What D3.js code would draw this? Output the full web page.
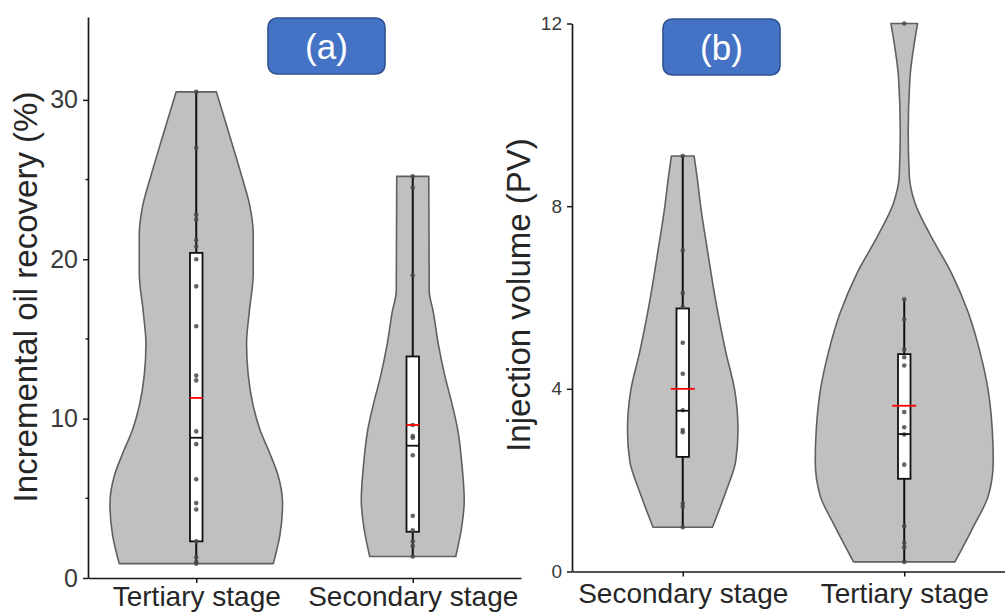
<!DOCTYPE html>
<html>
<head>
<meta charset="utf-8">
<script src="https://cdn.jsdelivr.net/npm/d3@7"></script>
<style>
  html, body { margin: 0; padding: 0; background: #ffffff; }
  svg { display: block; }
  text { font-family: "Liberation Sans", Arial, sans-serif; }
</style>
</head>
<body>
<svg id="chart" width="1005" height="613"></svg>
<script>
// ---- Panel (a): incremental oil recovery (%) ----
const recoveryCategories = ["Tertiary stage", "Secondary stage"];
const recoveryTicks = [0, 10, 20, 30];
const recoveryMinorTicks = [5, 15, 25];

const recoveryTertiaryPoints = [30.5, 27.0, 22.8, 22.5, 21.2, 20.8, 20.0, 18.3, 15.8, 12.7,
  12.4, 9.2, 8.4, 6.2, 4.7, 4.3, 2.3, 1.3, 1.0, 0.9];
const recoverySecondaryPoints = [25.2, 24.5, 19.0, 9.6, 8.9, 8.8, 7.7, 3.9, 3.0, 2.3, 2.0, 1.35];

const recoveryQ1 = [2.3, 2.9];
const recoveryMedian = [8.8, 8.3];
const recoveryQ3 = [20.4, 13.9];
const recoveryMean = [11.3, 9.6];
const recoveryWhiskerLow = [0.9, 1.35];
const recoveryWhiskerHigh = [30.5, 25.2];

// kernel density profiles: [value, relative density]
const recoveryTertiaryDensity = [
  [0.9, 0.856], [2.7, 0.93], [4.65, 0.959], [6.4, 0.911], [7.8, 0.819], [9.3, 0.708],
  [10.8, 0.633], [12.7, 0.578], [14.7, 0.559], [16.7, 0.589], [19.1, 0.633], [21.6, 0.633],
  [23.3, 0.597], [25.25, 0.503], [27.7, 0.374], [30.5, 0.224]
];
const recoverySecondaryDensity = [
  [1.35, 0.478], [3.2, 0.544], [4.9, 0.572], [6.9, 0.55], [9.3, 0.5], [11.0, 0.433],
  [12.7, 0.356], [14.7, 0.283], [16.7, 0.228], [18.0, 0.183], [25.2, 0.178]
];

// ---- Panel (b): injection volume (PV) ----
const volumeCategories = ["Secondary stage", "Tertiary stage"];
const volumeTicks = [0, 4, 8, 12];

const volumeSecondaryPoints = [9.1, 7.03, 6.1, 5.79, 5.01, 4.33, 3.53, 3.1, 3.05, 1.49, 1.42, 0.97];
const volumeTertiaryPoints = [12.0, 5.96, 5.52, 4.86, 4.69, 4.51, 3.49, 3.16, 3.0, 2.34, 0.99, 0.63, 0.53, 0.21];

const volumeQ1 = [2.51, 2.03];
const volumeMedian = [3.52, 3.01];
const volumeQ3 = [5.76, 4.76];
const volumeMean = [4.0, 3.63];
const volumeWhiskerLow = [0.97, 0.21];
const volumeWhiskerHigh = [9.1, 5.96];

const volumeSecondaryDensity = [
  [0.97, 0.33], [1.74, 0.478], [2.42, 0.589], [3.1, 0.614], [3.96, 0.578], [4.81, 0.478],
  [6.01, 0.359], [7.04, 0.274], [7.98, 0.2], [8.58, 0.163], [9.1, 0.126]
];
const volumeTertiaryDensity = [
  [0.21, 0.563], [1.05, 0.786], [1.65, 0.933], [2.42, 0.989], [3.1, 0.978], [3.96, 0.933],
  [4.81, 0.841], [5.67, 0.711], [6.53, 0.526], [7.38, 0.286], [8.07, 0.119], [8.66, 0.056],
  [9.6, 0.044], [10.8, 0.063], [11.66, 0.119], [12.0, 0.148]
];

// ---- drawing ----
const svg = d3.select("#chart");

const violinFill = "#c0c0c0";
const violinStroke = "#606060";
const axisColor = "#1a1a1a";
const textColor = "#262626";

function drawPanel(cfg) {
  const g = svg.append("g");
  const x = d3.scalePoint().domain(cfg.categories).range(cfg.xRange).padding(0.5);
  const y = d3.scaleLinear().domain(cfg.yDomain).range(cfg.yRange);
  const w = d3.scaleLinear().domain([0, 1]).range([0, 90]);

  // violins
  cfg.densities.forEach((dens, i) => {
    const cx = x(cfg.categories[i]);
    const area = d3.area()
      .y(d => y(d[0]))
      .x0(d => cx - w(d[1]))
      .x1(d => cx + w(d[1]))
      .curve(d3.curveMonotoneY);
    g.append("path")
      .attr("d", area(dens))
      .attr("fill", violinFill)
      .attr("stroke", violinStroke)
      .attr("stroke-width", 1.6)
      .attr("stroke-linejoin", "round");
  });

  // whiskers
  cfg.categories.forEach((c, i) => {
    g.append("line")
      .attr("x1", x(c)).attr("x2", x(c))
      .attr("y1", y(cfg.low[i])).attr("y2", y(cfg.high[i]))
      .attr("stroke", "#111").attr("stroke-width", 2);
  });

  // boxes
  const boxW = 12.5;
  cfg.categories.forEach((c, i) => {
    g.append("rect")
      .attr("x", x(c) - boxW / 2)
      .attr("y", y(cfg.q3[i]))
      .attr("width", boxW)
      .attr("height", y(cfg.q1[i]) - y(cfg.q3[i]))
      .attr("fill", "#ffffff")
      .attr("stroke", "#111")
      .attr("stroke-width", 1.8);
  });

  // data points
  cfg.points.forEach((pts, i) => {
    const cx = x(cfg.categories[i]);
    g.selectAll(null).data(pts).enter().append("circle")
      .attr("cx", cx)
      .attr("cy", d => y(d))
      .attr("r", 2.3)
      .attr("fill", "#4a4a4a")
      .attr("fill-opacity", 0.85);
  });

  // median lines
  cfg.categories.forEach((c, i) => {
    g.append("line")
      .attr("x1", x(c) - boxW / 2).attr("x2", x(c) + boxW / 2)
      .attr("y1", y(cfg.median[i])).attr("y2", y(cfg.median[i]))
      .attr("stroke", "#111").attr("stroke-width", 1.8);
  });

  // mean lines
  cfg.categories.forEach((c, i) => {
    g.append("line")
      .attr("x1", x(c) - cfg.meanW / 2).attr("x2", x(c) + cfg.meanW / 2)
      .attr("y1", y(cfg.mean[i])).attr("y2", y(cfg.mean[i]))
      .attr("stroke", "#ff0000").attr("stroke-width", 1.8);
  });

  // y axis
  const yAxis = g.append("g")
    .attr("transform", `translate(${cfg.xRange[0]},0)`)
    .call(d3.axisLeft(y).tickValues(cfg.ticks).tickSize(5).tickSizeOuter(0).tickPadding(5)
      .tickFormat(d3.format("d")));
  yAxis.select(".domain").attr("stroke", axisColor).attr("stroke-width", 1.7);
  yAxis.selectAll(".tick line").attr("stroke", axisColor).attr("stroke-width", 1.5);
  yAxis.selectAll(".tick text")
    .attr("font-size", cfg.tickFont)
    .attr("fill", "#3a3a3a");
  if (cfg.minorTicks) {
    g.selectAll(null).data(cfg.minorTicks).enter().append("line")
      .attr("x1", cfg.xRange[0] - 2.5).attr("x2", cfg.xRange[0])
      .attr("y1", d => y(d)).attr("y2", d => y(d))
      .attr("stroke", axisColor).attr("stroke-width", 1.5);
  }

  // x axis
  const xAxis = g.append("g")
    .attr("transform", `translate(0,${cfg.yRange[0]})`)
    .call(d3.axisBottom(x).tickSize(5).tickSizeOuter(0).tickPadding(cfg.xLabelPad));
  xAxis.select(".domain").attr("stroke", axisColor).attr("stroke-width", 1.7);
  xAxis.selectAll(".tick line").attr("stroke", axisColor).attr("stroke-width", 1.5);
  xAxis.selectAll(".tick text")
    .attr("font-size", 28)
    .attr("fill", textColor);

  // y title
  g.append("text")
    .attr("transform", `translate(${cfg.titleX},${cfg.titleY}) rotate(-90)`)
    .attr("text-anchor", "middle")
    .attr("font-size", cfg.titleFont)
    .attr("fill", textColor)
    .text(cfg.title);

  // panel tag
  const tag = g.append("g").attr("transform", `translate(${cfg.tag.x},${cfg.tag.y})`);
  tag.append("rect")
    .attr("width", 117).attr("height", 56).attr("rx", 9)
    .attr("fill", "#4472c4")
    .attr("stroke", "#2f528f")
    .attr("stroke-width", 1.6);
  tag.append("text")
    .attr("x", 58.5).attr("y", 28)
    .attr("dy", "0.36em")
    .attr("text-anchor", "middle")
    .attr("font-family", "'Open Sans', 'Liberation Sans', sans-serif")
    .attr("font-size", 35)
    .attr("fill", "#ffffff")
    .text(cfg.tag.label);
}

drawPanel({
  categories: recoveryCategories,
  xRange: [88, 521],
  yDomain: [0, 35.2],
  yRange: [578, 17],
  ticks: recoveryTicks,
  minorTicks: recoveryMinorTicks,
  tickFont: 25,
  xLabelPad: 3,
  densities: [recoveryTertiaryDensity, recoverySecondaryDensity],
  points: [recoveryTertiaryPoints, recoverySecondaryPoints],
  q1: recoveryQ1, median: recoveryMedian, q3: recoveryQ3, mean: recoveryMean,
  low: recoveryWhiskerLow, high: recoveryWhiskerHigh,
  meanW: 13,
  title: "Incremental oil recovery (%)",
  titleX: 37, titleY: 297, titleFont: 33,
  tag: { x: 268, y: 18, label: "(a)" }
});

drawPanel({
  categories: volumeCategories,
  xRange: [572, 1015],
  yDomain: [0, 12],
  yRange: [571.5, 23.5],
  ticks: volumeTicks,
  minorTicks: null,
  tickFont: 19,
  xLabelPad: 7,
  densities: [volumeSecondaryDensity, volumeTertiaryDensity],
  points: [volumeSecondaryPoints, volumeTertiaryPoints],
  q1: volumeQ1, median: volumeMedian, q3: volumeQ3, mean: volumeMean,
  low: volumeWhiskerLow, high: volumeWhiskerHigh,
  meanW: 24,
  title: "Injection volume (PV)",
  titleX: 530, titleY: 295, titleFont: 33,
  tag: { x: 663, y: 19, label: "(b)" }
});
</script>
</body>
</html>
